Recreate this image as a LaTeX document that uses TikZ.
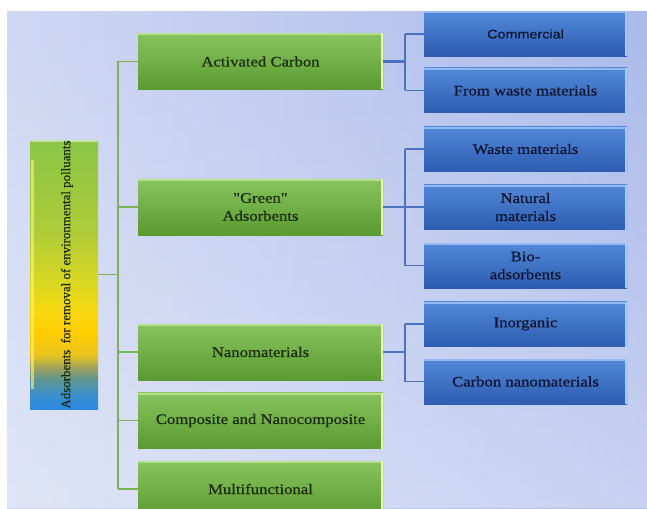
\documentclass[tikz,border=0pt]{standalone}
\usepackage{fontspec}
\setmainfont{Liberation Serif}
\newfontfamily\boxfont{Liberation Serif}[FakeStretch=1.15,FakeBold=0.6]
\newfontfamily\sansboxfont{Liberation Sans}[FakeStretch=1.15,FakeBold=0.4]
\newfontfamily\rootfont{Liberation Serif}[FakeBold=0.6]
\usetikzlibrary{fadings}
\definecolor{bgL}{HTML}{CFD7F2}
\definecolor{bgR}{HTML}{AABAEA}
\definecolor{gTop}{HTML}{88C45E}
\definecolor{gBot}{HTML}{5A9A30}
\definecolor{gHiT}{HTML}{B4E08C}
\definecolor{gHiR}{HTML}{E6F8B0}
\definecolor{gText}{HTML}{1C2A10}
\definecolor{bTop}{HTML}{5289D8}
\definecolor{bBot}{HTML}{2D5CB0}
\definecolor{bHiT}{HTML}{93B8F2}
\definecolor{bHiR}{HTML}{A8C6F6}
\definecolor{bText}{HTML}{0E1430}
\definecolor{gLine}{HTML}{7FB057}
\definecolor{bLine}{HTML}{4A72BE}
\definecolor{rB}{HTML}{2A8AE0}
\definecolor{r1}{HTML}{3A8FD0}
\definecolor{r2}{HTML}{5E9690}
\definecolor{r3}{HTML}{9AA060}
\definecolor{r4}{HTML}{E8C420}
\definecolor{r5}{HTML}{FFCC00}
\definecolor{r6}{HTML}{F8D810}
\definecolor{r7}{HTML}{DCD820}
\definecolor{r8}{HTML}{B0CC38}
\definecolor{r9}{HTML}{98C840}
\definecolor{rT}{HTML}{8CC646}
\pgfdeclareverticalshading{rootshade}{100bp}{color(0bp)=(rB); color(25bp)=(rB); color(27.5bp)=(r1); color(30.5bp)=(r2); color(32.5bp)=(r3); color(35bp)=(r4); color(39bp)=(r5); color(43bp)=(r6); color(48bp)=(r7); color(57.5bp)=(r8); color(67.5bp)=(r9); color(75bp)=(rT); color(100bp)=(rT)}
\tikzset{
  bevel/.style 2 args={path picture={
    \draw[line width=2pt,#1] ([yshift=-1pt]path picture bounding box.north west) -- ([yshift=-1pt]path picture bounding box.north east);
    \draw[line width=2.5pt,#2] ([xshift=-1.25pt]path picture bounding box.north east) -- ([xshift=-1.25pt]path picture bounding box.south east);
  }},
  gbox/.style={rectangle, minimum width=245pt, minimum height=56pt, inner sep=0pt,
    top color=gTop, bottom color=gBot, text=gText, align=center,
    font=\boxfont\fontsize{14.5}{18}\selectfont, bevel={gHiT}{gHiR}},
  bbox/.style={rectangle, minimum width=203pt, minimum height=45pt, inner sep=0pt,
    top color=bTop, bottom color=bBot, text=bText, align=center,
    font=\boxfont\fontsize{14.5}{18}\selectfont, bevel={bHiT}{bHiR}},
  rootbox/.style={rectangle, minimum width=68pt, minimum height=269pt, inner sep=0pt,
    shading=rootshade, text=gText, font=\rootfont\fontsize{12.9}{15}\selectfont,
    path picture={\draw[line width=3pt, yellow!50!white, opacity=0.6] ([xshift=2pt,yshift=-20pt]path picture bounding box.north west) -- ([xshift=2pt,yshift=20pt]path picture bounding box.south west);
      \draw[line width=1.5pt, white, opacity=0.5] ([yshift=-0.75pt]path picture bounding box.north west) -- ([yshift=-0.75pt]path picture bounding box.north east);}},
  gline/.style={draw=gLine, line width=1.5pt},
  bline/.style={draw=bLine, line width=1.5pt},
  bstub/.style={draw=bLine, line width=2.5pt}
}
\begin{document}
\begin{tikzpicture}[x=1pt,y=-1pt]
\useasboundingbox (0,0) rectangle (647,508);
\fill[left color=bgL, right color=bgR] (7,12) rectangle (647,508);
\fill[white, opacity=0.35, path fading=north] (7,12) rectangle (647,508);

\coordinate (tr) at (118,0);
\coordinate (br) at (405,0);

\node[rootbox] (root) at (64,274.5) {\hspace*{6pt}\rotatebox{90}{Adsorbents\ \ for removal of environmental polluants}};

\node[gbox] (ac) at (260.5,61.5) {Activated Carbon};
\node[gbox] (gr) at (260.5,207) {"Green"\\Adsorbents};
\node[gbox] (nano) at (260.5,352) {Nanomaterials};
\node[gbox] (comp) at (260.5,420.5) {Composite and Nanocomposite};
\node[gbox] (multi) at (260.5,489) {Multifunctional};

\node[bbox] (com) at (525.5,34) {\sansboxfont\fontsize{12.5}{15}\selectfont Commercial};
\node[bbox] (fw) at (525.5,90.5) {From waste materials};
\node[bbox] (wm) at (525.5,149) {Waste materials};
\node[bbox] (nat) at (525.5,207) {Natural\\materials};
\node[bbox] (bio) at (525.5,265.5) {Bio-\\adsorbents};
\node[bbox] (inorg) at (525.5,324) {Inorganic};
\node[bbox] (cn) at (525.5,381.5) {Carbon nanomaterials};

\draw[gline] (root.east) -- (root.east -| tr);
\draw[gline] (ac.west -| tr) -- (multi.west -| tr);
\foreach \n in {ac,gr,nano,comp,multi}
  \draw[gline] (\n.west) -- (\n.west -| tr);

\draw[bstub] (ac.east) -- (ac.east -| br);
\draw[bline] (com.west -| br) -- (fw.west -| br);
\draw[bline] (com.west) -- (com.west -| br);
\draw[bline] (fw.west) -- (fw.west -| br);

\draw[bstub] (gr.east) -- (gr.east -| br);
\draw[bline] (wm.west -| br) -- (bio.west -| br);
\foreach \n in {wm,nat,bio}
  \draw[bline] (\n.west) -- (\n.west -| br);

\draw[bstub] (nano.east) -- (nano.east -| br);
\draw[bline] (inorg.west -| br) -- (cn.west -| br);
\foreach \n in {inorg,cn}
  \draw[bline] (\n.west) -- (\n.west -| br);
\end{tikzpicture}
\end{document}
